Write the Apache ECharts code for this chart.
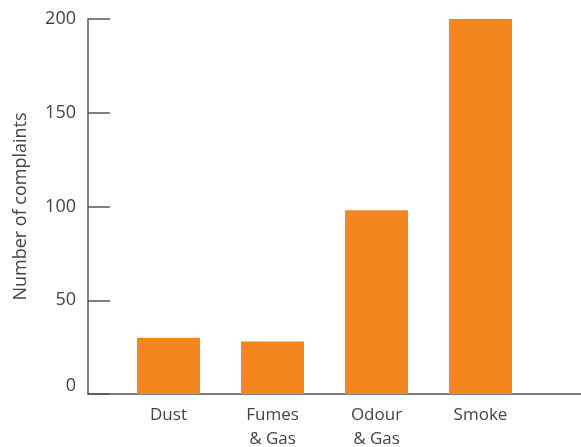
<!DOCTYPE html>
<html>
<head>
<meta charset="utf-8">
<script src="https://cdn.jsdelivr.net/npm/echarts@6/dist/echarts.min.js"></script>
<style>html,body{margin:0;padding:0;background:#fff;}#c{width:581px;height:447px;}</style>
</head>
<body>
<div id="c"></div>
<script>
const categories = ['Dust', 'Fumes\n& Gas', 'Odour\n& Gas', 'Smoke'];
const complaints = [30, 28, 98, 200];
const yTicks = [0, 50, 100, 150, 200];

const axisColor = '#555555';
const textColor = '#444444';
const font = '"Open Sans", "Noto Sans", sans-serif';

const chart = echarts.init(document.getElementById('c'), null, {renderer: 'canvas'});
chart.setOption({
  animation: false,
  backgroundColor: '#ffffff',
  grid: [
    {left: 116.5, right: 48.5, top: 19, bottom: 53, containLabel: false, outerBoundsMode: 'none'},
    {left: 88, right: 0, top: 19, bottom: 53, containLabel: false, outerBoundsMode: 'none'}
  ],
  xAxis: [
    {
      type: 'category', gridIndex: 0, data: categories,
      axisLine: {show: false}, axisTick: {show: false},
      axisLabel: {color: textColor, fontSize: 17, fontFamily: font, margin: 9, lineHeight: 24}
    },
    {
      type: 'value', gridIndex: 1, min: 0, max: 1,
      axisLine: {show: true, lineStyle: {color: axisColor, width: 1.5}},
      axisTick: {show: false}, axisLabel: {show: false}, splitLine: {show: false}
    }
  ],
  yAxis: [
    {
      type: 'value', gridIndex: 0, min: yTicks[0], max: yTicks[yTicks.length - 1], interval: 50,
      offset: 28.5,
      axisLine: {show: true, lineStyle: {color: axisColor, width: 1.5}},
      axisTick: {show: true, inside: true, length: 22, lineStyle: {color: axisColor, width: 1.5}},
      axisLabel: {
        color: textColor, fontSize: 18, fontFamily: font, margin: 12,
        formatter: v => v === 0 ? '{z|0}' : String(v),
        rich: {z: {color: textColor, fontSize: 18, fontFamily: font, padding: [0, 0, 16, 0]}}
      },
      splitLine: {show: false},
      name: 'Number of complaints', nameLocation: 'middle', nameGap: 58,
      nameTextStyle: {color: textColor, fontSize: 18, fontFamily: font}
    },
    {
      type: 'value', gridIndex: 1, show: false, min: 0, max: 1
    }
  ],
  series: [
    {
      type: 'bar', xAxisIndex: 0, yAxisIndex: 0, data: complaints,
      barWidth: 63, itemStyle: {color: '#F4861F'}
    }
  ]
});
</script>
</body>
</html>
